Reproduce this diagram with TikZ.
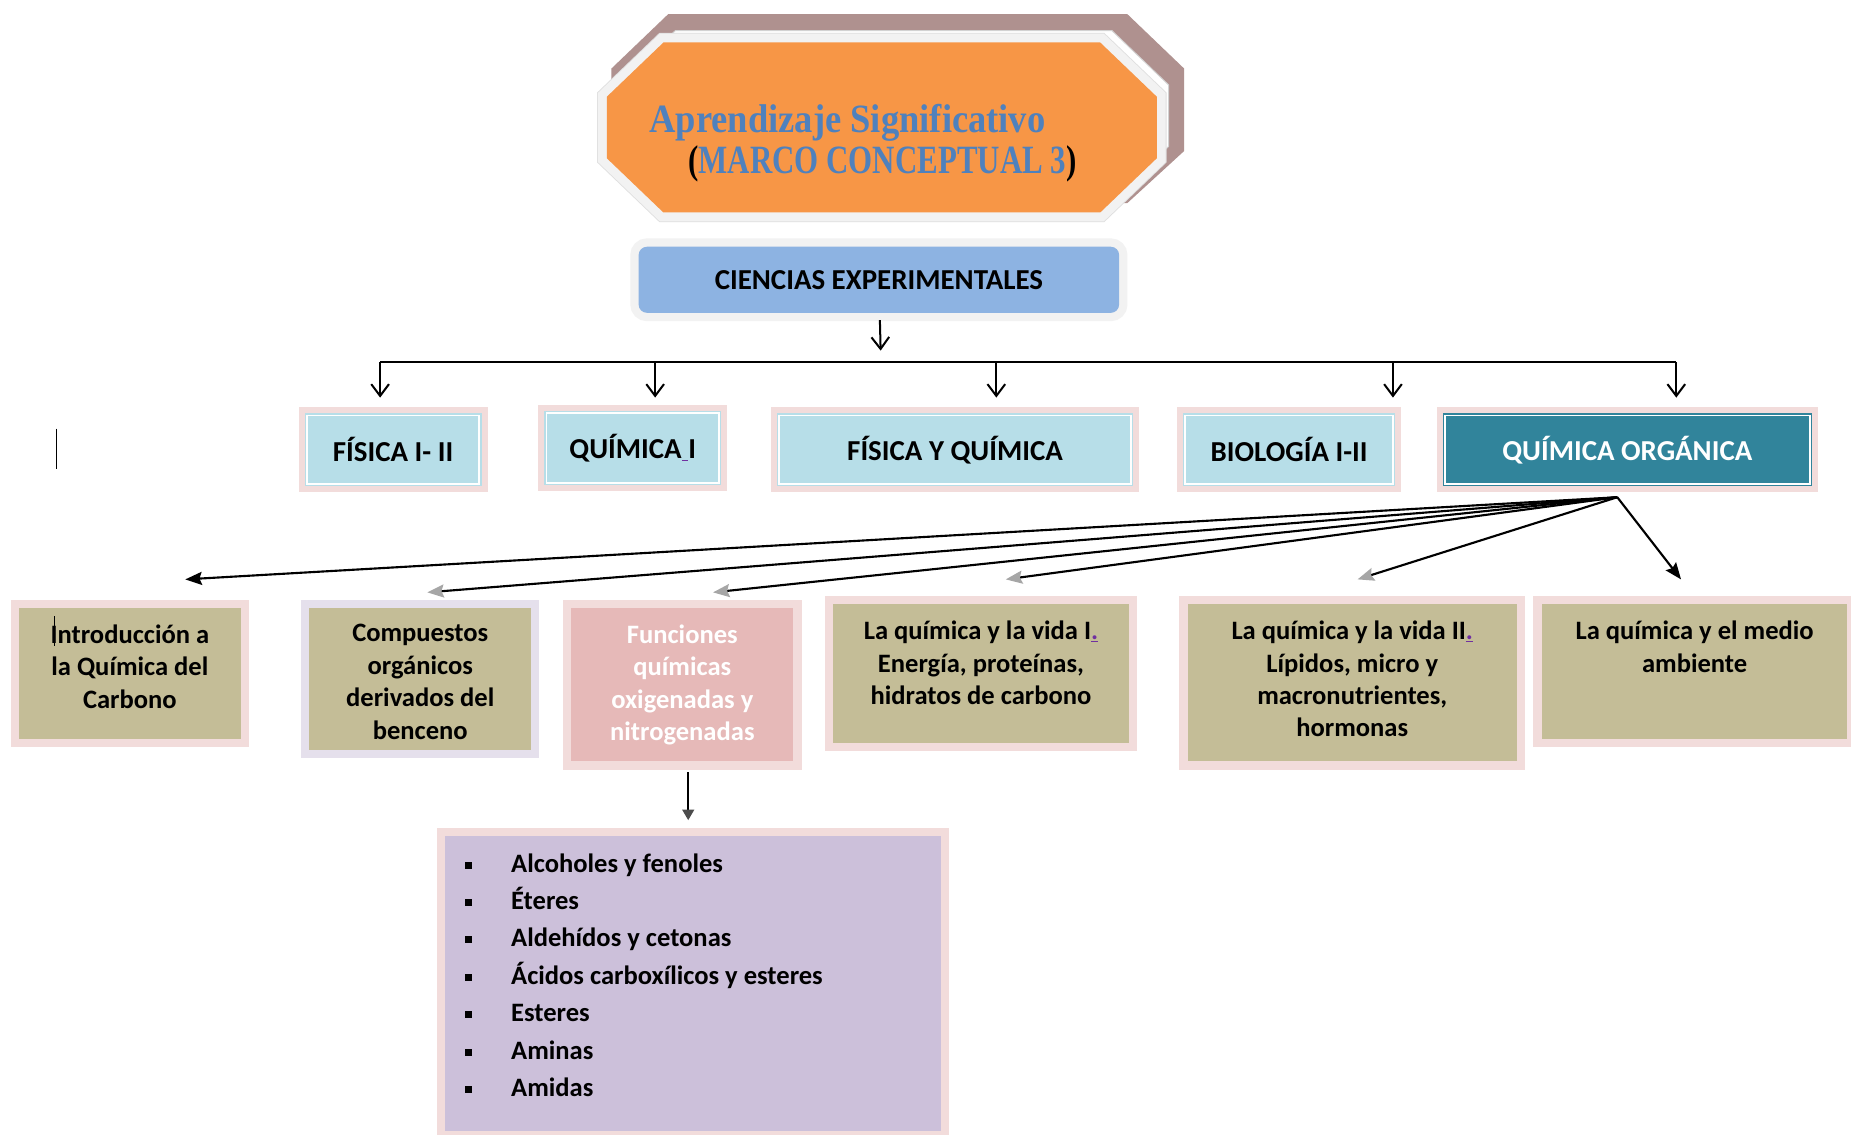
\documentclass[tikz,border=0pt]{standalone}
\usepackage{fontspec}
\usepackage{graphicx}
\setmainfont{Carlito}
\newfontfamily\titleserif{Liberation Serif}
\usetikzlibrary{positioning, arrows.meta}

\definecolor{orangetitle}{HTML}{F79646}
\definecolor{bluetitle}{HTML}{4F81BD}
\definecolor{mauveback}{HTML}{AF918F}
\definecolor{greyband}{HTML}{F2F2F2}
\definecolor{bluebox}{HTML}{8DB3E2}
\definecolor{pinkband}{HTML}{F2DCDB}
\definecolor{skyfill}{HTML}{B7DEE8}
\definecolor{tealfill}{HTML}{31849B}
\definecolor{khaki}{HTML}{C4BD97}
\definecolor{lilacband}{HTML}{E5E0EC}
\definecolor{rosefill}{HTML}{E6B9B8}
\definecolor{lilacfill}{HTML}{CCC0DA}
\definecolor{markpurple}{HTML}{7030A0}

\newcommand{\subjfont}{\fontsize{24.5}{29}\selectfont\bfseries}
\newcommand{\unitfont}{\fontsize{22.5}{27.5}\selectfont\bfseries}
\newcommand{\listfont}{\fontsize{22.5}{31.7}\selectfont\bfseries}
\newcommand{\pdot}{{\color{markpurple}\underline{.}}}
\newcommand{\qmark}{{\color{markpurple}\underline{\ }}}
\newcommand{\lb}{\makebox[39pt][l]{\rule[3pt]{6pt}{6pt}}}

\tikzset{
  band/.style={preaction={draw=#1, line width=14pt}},
  inline/.style={postaction={draw=#1, line width=1.2pt, double=white, double distance=1.5pt}},
  titleshape/.style={fill=orangetitle, preaction={draw=gray!25, line width=16.5pt},
    preaction={draw=greyband, line width=15pt}},
  titletext/.style={font=\titleserif\bfseries\fontsize{34}{40}\selectfont, text=bluetitle, inner sep=0pt, anchor=base west},
  cienbox/.style={band=greyband, fill=bluebox, rounded corners=7pt, font=\subjfont,
    minimum width=407pt, minimum height=56pt, inner sep=0pt},
  subjbox/.style={band=pinkband, fill=skyfill, inline=skyfill, font=\subjfont, inner sep=0pt},
  orgbox/.style={band=pinkband, fill=tealfill, inline=tealfill, font=\subjfont, text=white, inner sep=0pt},
  unitbox/.style={band=#1, fill=khaki, inner sep=0pt},
  unitbox/.default=pinkband,
  unittext/.style={font=\unitfont, align=center, inner sep=0pt, anchor=north},
  listtext/.style={font=\listfont, align=left, inner sep=0pt, anchor=north west},
  busline/.style={line width=1.7pt},
  veearrow/.style={line width=1.7pt, -{Straight Barb[length=10pt, width=15pt, line width=1.7pt]}},
  fanarrow/.style={line width=1.8pt, -{Stealth[length=14pt, width=11pt, inset=2pt]}},
  fangrey/.style={line width=1.8pt, -{Stealth[length=14pt, width=11pt, inset=2pt, color=gray!70]}},
  downarrow/.style={line width=1.7pt, -{Triangle[length=9pt, width=10pt, color=gray!60!black]}}
}

\begin{document}
\begin{tikzpicture}[x=1pt, y=-1pt]
\useasboundingbox (0,0) rectangle (1568,961);
\fill[white] (0,0) rectangle (1568,961);

% title
\fill[mauveback] (566,12) -- (955,12) -- (1003,58) -- (1003,128) -- (955,172) -- (566,172) -- (518,128) -- (518,58) -- cycle;
\draw[gray!35, line width=0.8pt, fill=white] (572,26) -- (942,26) -- (990,72) -- (990,124) -- (942,170) -- (572,170) -- (524,124) -- (524,72) -- cycle;
\path[titleshape] (562,36) -- (932,36) -- (980,82) -- (980,134) -- (932,180) -- (562,180) -- (514,134) -- (514,82) -- cycle;
\node[titletext] (tit1) at (550,112) {\scalebox{0.91}[1]{Aprendizaje Significativo}};
\node[titletext] (tit2) at (583,147) {\scalebox{0.77}[1]{{\color{black}(}MARCO CONCEPTUAL 3{\color{black})}}};

\node[cienbox] (cien) at (744.5,237) {CIENCIAS EXPERIMENTALES};

% subjects
\node[subjbox, minimum width=146pt, minimum height=58pt] (fis) at (333,381) {FÍSICA I- II};
\node[subjbox, minimum width=146pt, minimum height=59pt] (qui) at (536,379.5) {QUÍMICA\qmark I};
\node[subjbox, minimum width=298pt, minimum height=58pt] (fyq) at (809,381) {FÍSICA Y QUÍMICA};
\node[subjbox, minimum width=176pt, minimum height=58pt] (bio) at (1092,381) {BIOLOGÍA I-II};
\node[orgbox, minimum width=309pt, minimum height=58pt] (qorg) at (1378.5,381) {QUÍMICA ORGÁNICA};

% units
\node[unitbox, minimum width=188pt, minimum height=111pt] (intro) at (110,570.5) {};
\node[unitbox=lilacband, minimum width=188pt, minimum height=120pt] (comp) at (356,575) {};
\node[unitbox, fill=rosefill, minimum width=188pt, minimum height=130pt] (func) at (578,580) {};
\node[unitbox, minimum width=250pt, minimum height=117pt] (vida1) at (831,570.5) {};
\node[unitbox, minimum width=279pt, minimum height=133pt] (vida2) at (1145.5,578.5) {};
\node[unitbox, minimum width=259pt, minimum height=114pt] (medio) at (1435.5,569) {};

\node[unittext] (intro-t) at ([yshift=-14pt]intro.north) {Introducción a\\la Química del\\Carbono};
\node[unittext] (comp-t) at ([yshift=-14pt]comp.north) {Compuestos\\orgánicos\\derivados del\\benceno};
\node[unittext, text=white] (func-t) at ([yshift=-14pt]func.north) {Funciones\\químicas\\oxigenadas y\\nitrogenadas};
\node[unittext] (vida1-t) at ([yshift=-14pt]vida1.north) {La química y la vida I\pdot\\Energía, proteínas,\\hidratos de carbono};
\node[unittext] (vida2-t) at ([yshift=-14pt]vida2.north) {La química y la vida II\pdot\\Lípidos, micro y\\macronutrientes,\\hormonas};
\node[unittext] (medio-t) at ([yshift=-14pt]medio.north) {La química y el medio\\ambiente};

% list of functions
\node[unitbox, fill=lilacfill, minimum width=420pt, minimum height=250pt] (list) at (587,833) {};
\node[listtext] (list-t) at ([xshift=17pt,yshift=-15pt]list.north west)
  {\lb Alcoholes y fenoles\\\lb Éteres\\\lb Aldehídos y cetonas\\\lb Ácidos carboxílicos y esteres\\\lb Esteres\\\lb Aminas\\\lb Amidas};

% connectors
\coordinate (bus) at (746,307);
\coordinate (fis-in) at ([xshift=-11pt,yshift=15pt]fis.north);
\coordinate (qui-in) at ([xshift=19pt,yshift=13pt]qui.north);
\coordinate (fyq-in) at ([xshift=35pt,yshift=15pt]fyq.north);
\coordinate (bio-in) at ([xshift=88pt,yshift=15pt]bio.north);
\coordinate (qorg-in) at ([xshift=41.5pt,yshift=15pt]qorg.north);
\draw[veearrow, shorten <=6pt] (cien) -- ([yshift=10pt]bus);
\draw[busline] (bus -| fis-in) -- (bus -| qorg-in);
\draw[veearrow] (bus -| fis-in) -- (fis-in);
\draw[veearrow] (bus -| qui-in) -- (qui-in);
\draw[veearrow] (bus -| fyq-in) -- (fyq-in);
\draw[veearrow] (bus -| bio-in) -- (bio-in);
\draw[veearrow] (bus -| qorg-in) -- (qorg-in);

\coordinate (fan) at ([xshift=-8.5pt,yshift=-11pt]qorg.south);
\draw[fanarrow] (fan) -- ([xshift=47pt,yshift=24pt]intro.north);
\draw[fangrey] (fan) -- ([xshift=6pt,yshift=13pt]comp.north);
\draw[fangrey] (fan) -- ([xshift=26pt,yshift=13pt]func.north);
\draw[fangrey] (fan) -- ([xshift=21pt,yshift=21pt]vida1.north);
\draw[fangrey] (fan) -- ([xshift=4.5pt,yshift=21pt]vida2.north);
\draw[fanarrow] (fan) -- ([xshift=-11.5pt,yshift=21pt]medio.north);

\draw[downarrow] ([xshift=5pt,yshift=-9pt]func.south) -- ([xshift=-4pt,yshift=13pt]list.north);

% cursor marks
\draw[line width=1pt] (48,363) -- (48,397);
\draw[line width=0.8pt] (46,522) -- (46,547);
\end{tikzpicture}
\end{document}
